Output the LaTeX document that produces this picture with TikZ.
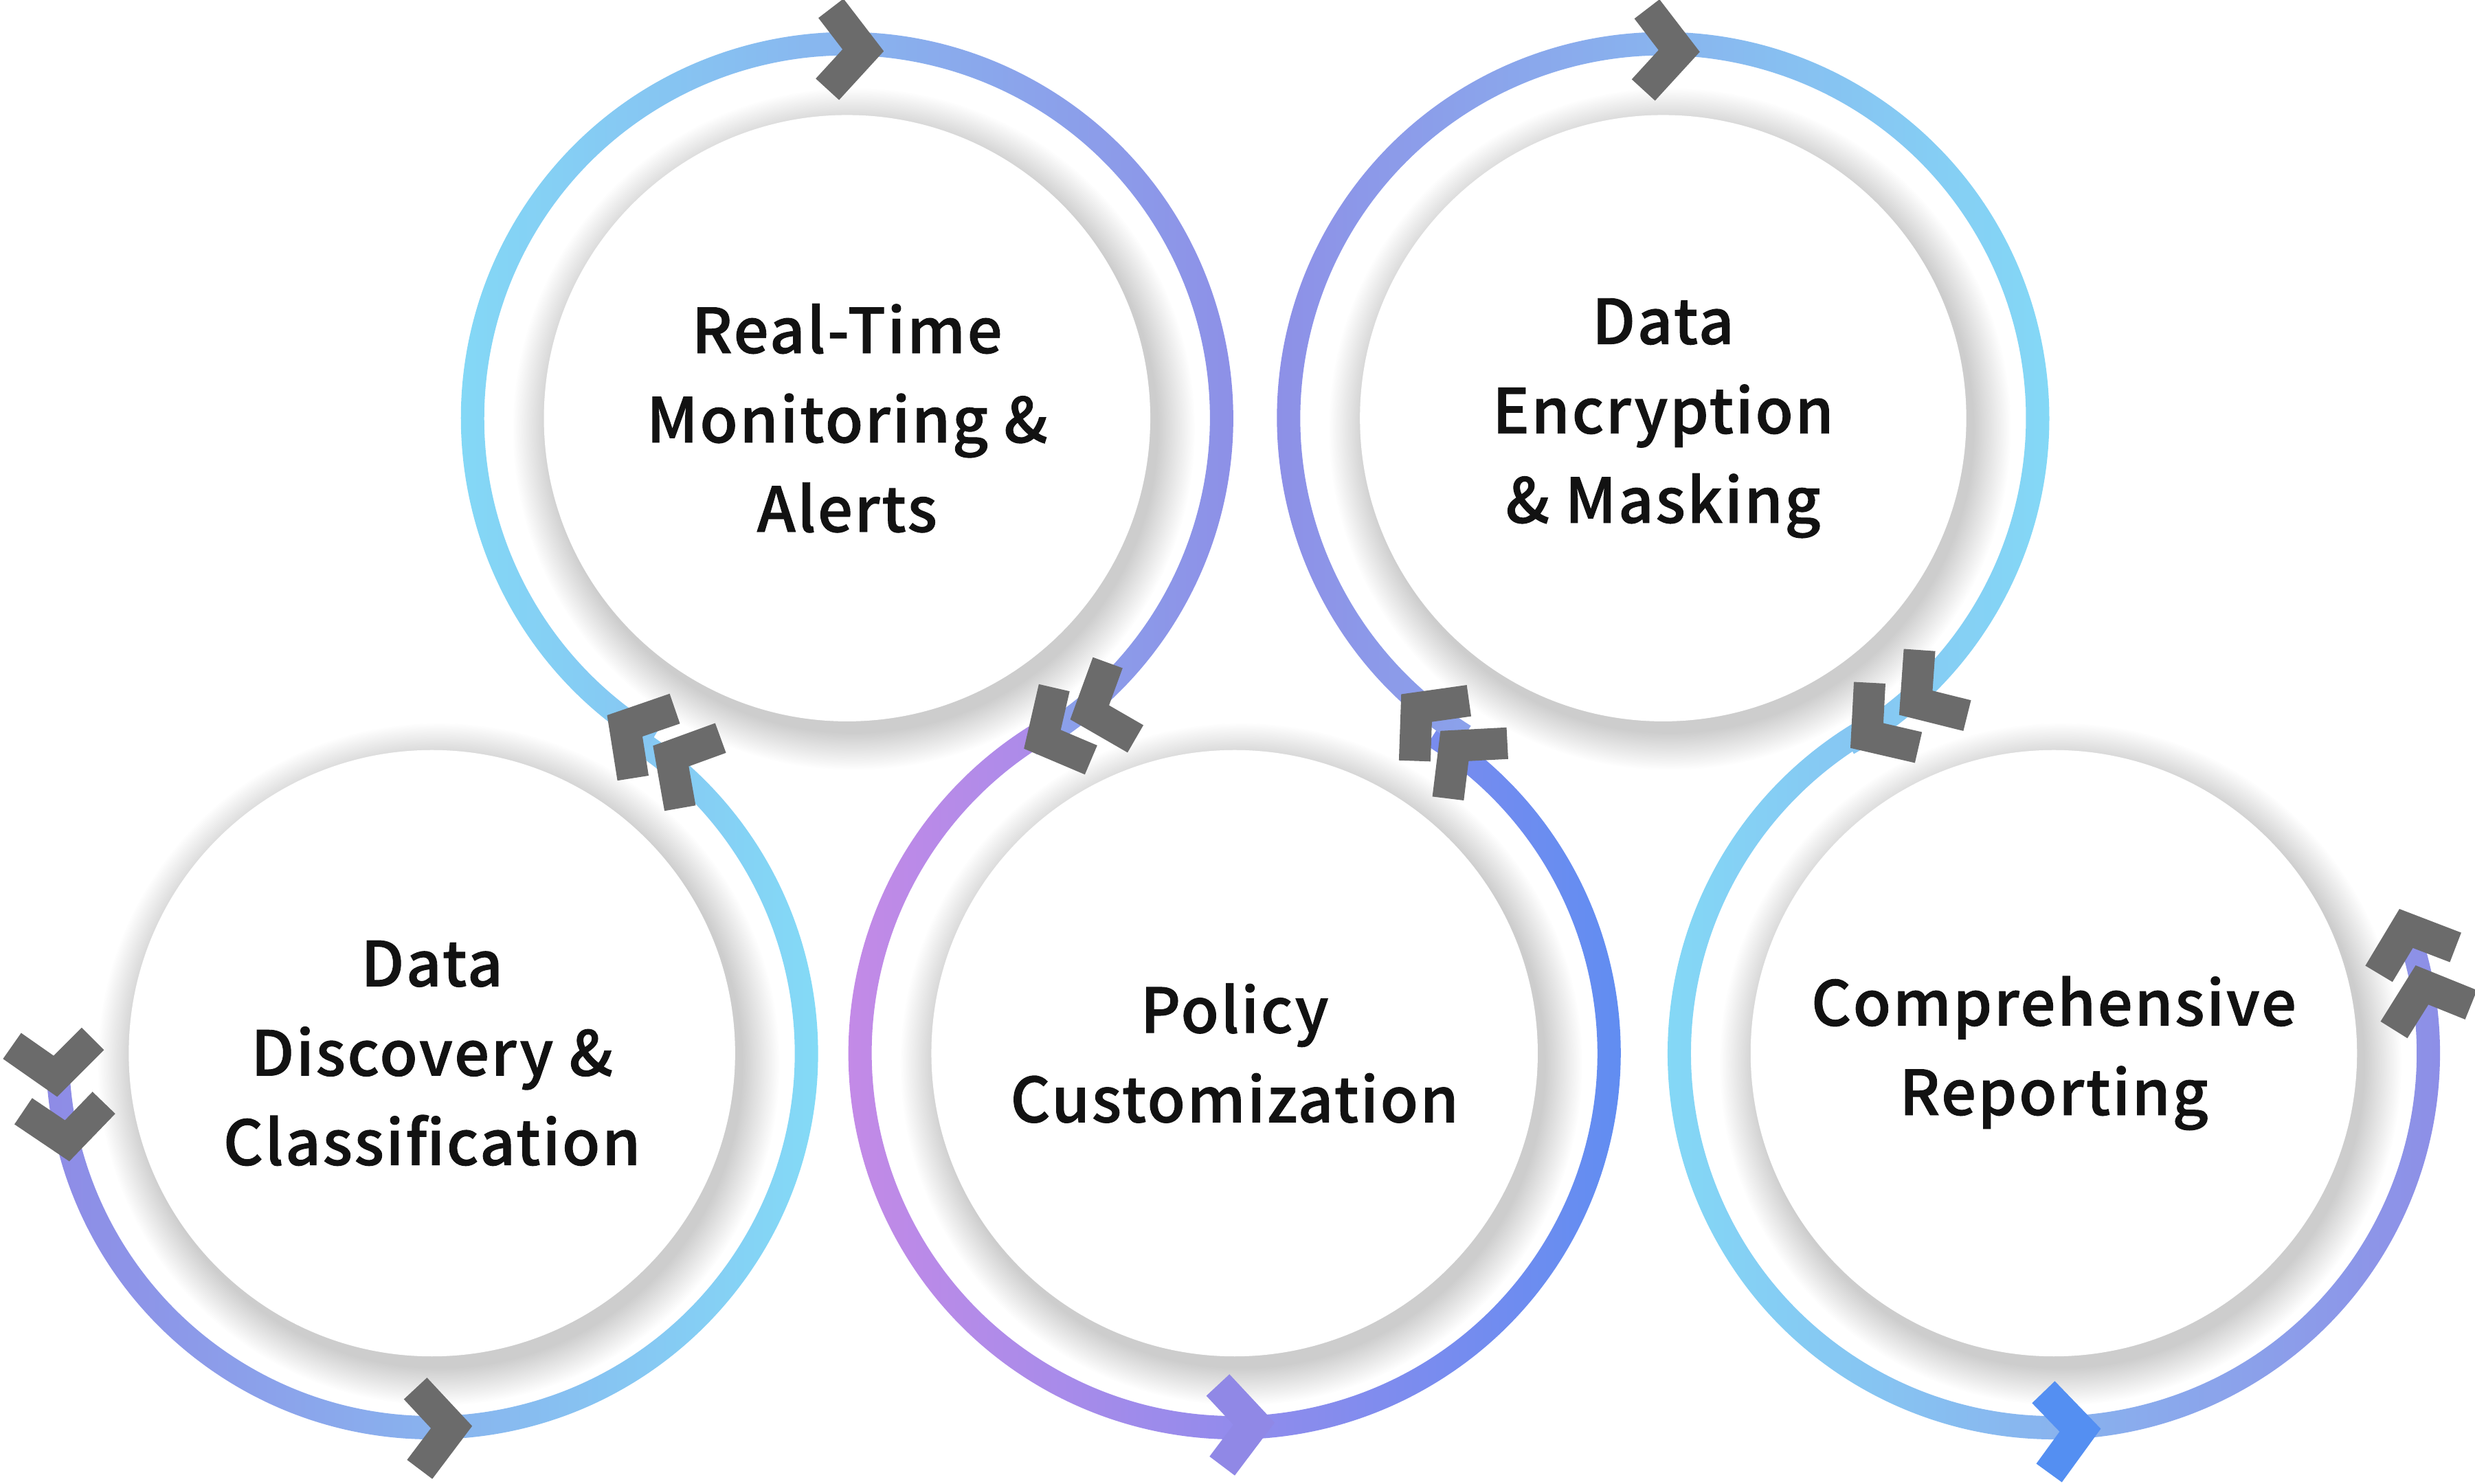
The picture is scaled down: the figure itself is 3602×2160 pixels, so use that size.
\documentclass[tikz,border=0pt]{standalone}
\usepackage{fontspec}
\newfontfamily\lblfont[LetterSpace=3.0, FakeBold=1.0]{Noto Sans CJK SC Medium}
\definecolor{chevgray}{HTML}{6B6B6B}
\definecolor{txtblack}{HTML}{121212}
\definecolor{ringcyan}{HTML}{83DDF7}
\definecolor{ringviolet}{HTML}{8E8BE6}
\definecolor{ringpink}{HTML}{CA8AE6}
\definecolor{ringblue}{HTML}{5A8DF2}
\definecolor{chevviolet}{HTML}{9088E6}
\definecolor{chevblue}{HTML}{548FF2}

% ring segment round a centre: {centre}{from}{to}{shading}
\newcommand{\ring}[4]{\shade[#4] ([shift={(#2:562)}]#1) arc[start angle=#2, end angle=#3, radius=562]
  -- ([shift={(#3:528)}]#1) arc[start angle=#3, end angle=#2, radius=528] -- cycle;}
% chevron: [colour]{centre}{angle}{distance}{heading}
\newcommand{\chev}[5][chevgray]{\draw[chevron, draw=#1] ([shift={(#3:#4)}]#2) ++(#5+130:77)
  -- ([shift={(#3:#4)}]#2) -- ++(#5-130:77);}

\begin{document}
\begin{tikzpicture}[x=0.01cm, y=0.01cm,
  disk/.style={circle, fill=white, minimum size=8.82cm, inner sep=0pt, align=center,
    text=txtblack, font=\lblfont\fontsize{25.6}{37}\selectfont},
  chevron/.style={line width=0.46cm, line cap=butt, line join=miter, miter limit=10}]
\useasboundingbox (0,0) rectangle (3602,2160);

\coordinate (discovery) at (628.6,627);
\coordinate (monitoring) at (1232.8,1551.3);
\coordinate (policy) at (1796.7,627);
\coordinate (encryption) at (2420.4,1551.3);
\coordinate (reporting) at (2989,627);

% soft shadows
\foreach \c in {discovery,monitoring,policy,encryption,reporting}
  \foreach \k in {0,...,24}
    \fill[black, opacity=0.008] ([shift={(10,-16)}]\c) circle ({496-2.2*\k});

\node[disk] (discoveryDisk) at (discovery) {Data\\Discovery \&\\Classification};
\node[disk] (monitoringDisk) at (monitoring) {Real-Time\\Monitoring \&\\Alerts};
\node[disk] (policyDisk) at (policy) {Policy\\Customization};
\node[disk] (encryptionDisk) at (encryption) {Data\\Encryption\\\& Masking};
\node[disk] (reportingDisk) at (reporting) {Comprehensive\\Reporting};

\ring{discovery}{184}{418.8}{left color=ringviolet, right color=ringcyan}
\ring{monitoring}{238.8}{-60.6}{left color=ringcyan, right color=ringviolet}
\ring{policy}{119.4}{418}{left color=ringpink, right color=ringblue}
\ring{encryption}{238}{-60.4}{left color=ringviolet, right color=ringcyan}
\ring{reporting}{119.6}{379}{left color=ringcyan, right color=ringviolet}

\chev{discovery}{183.5}{549}{275}
\chev{discovery}{193.5}{546}{276}
\chev{discovery}{273}{545}{3}
\chev{discovery}{51.2}{555}{150}
\chev{discovery}{59.5}{553}{149}
\chev{monitoring}{87.5}{536}{-2.5}
\chev{monitoring}{-50.5}{555}{200}
\chev{monitoring}{-58.7}{547}{207}
\chev[chevviolet]{policy}{273}{540}{3}
\chev{policy}{54.4}{550}{133}
\chev{policy}{62.2}{568}{138}
\chev{encryption}{87.5}{535}{-2.5}
\chev{encryption}{-48.4}{554}{216}
\chev{encryption}{-57.3}{549}{217}
\chev[chevblue]{reporting}{274}{550}{4}
\chev{reporting}{10.5}{545}{108}
\chev{reporting}{19.5}{544}{109}
\end{tikzpicture}
\end{document}
